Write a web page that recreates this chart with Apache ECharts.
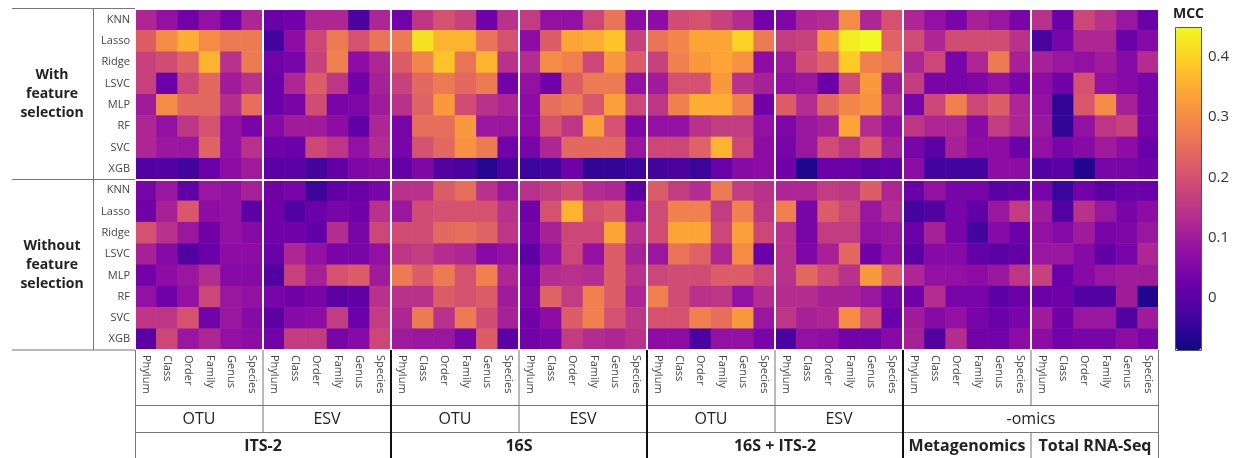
<!DOCTYPE html>
<html>
<head>
<meta charset="utf-8">
<script src="https://cdn.jsdelivr.net/npm/echarts@6/dist/echarts.min.js"></script>
<style>
html, body { margin: 0; padding: 0; background: #fff; }
#chart { width: 1241px; height: 458px; }
</style>
</head>
<body>
<div id="chart"></div>
<script>
var models = ['KNN', 'Lasso', 'Ridge', 'LSVC', 'MLP', 'RF', 'SVC', 'XGB'];
var ranks = ['Phylum', 'Class', 'Order', 'Family', 'Genus', 'Species'];
var subGroups = ['OTU', 'ESV', 'OTU', 'ESV', 'OTU', 'ESV'];
var markers = ['ITS-2', '16S', '16S + ITS-2'];
var omicsNames = ['Metagenomics', 'Total RNA-Seq'];
var selectionLabels = ['With\nfeature\nselection', 'Without\nfeature\nselection'];
var mccTicks = [0, 0.1, 0.2, 0.3, 0.4];
var mccMin = -0.087, mccMax = 0.448;

// rows = models, columns = OTU ranks then ESV ranks (or metagenomics then RNA-seq)
var its2With = [
    [0.12, 0.08, 0.03, 0.08, 0.03, 0.12, 0.02, 0.03, 0.12, 0.12, -0.02, 0.12],
    [0.22, 0.30, 0.35, 0.30, 0.27, 0.27, -0.03, 0.07, 0.18, 0.27, 0.20, 0.26],
    [0.17, 0.19, 0.23, 0.36, 0.14, 0.27, 0.03, 0.04, 0.17, 0.28, 0.07, 0.12],
    [0.17, 0.02, 0.18, 0.24, 0.10, 0.14, 0.02, 0.12, 0.22, 0.15, 0.03, 0.11],
    [0.10, 0.30, 0.24, 0.24, 0.13, 0.25, 0.02, 0.04, 0.19, 0.04, 0.05, 0.10],
    [0.12, 0.08, 0.15, 0.20, 0.08, 0.04, 0.06, 0.10, 0.10, 0.07, 0.01, 0.12],
    [0.12, 0.09, 0.09, 0.23, 0.08, 0.14, 0.03, 0.02, 0.18, 0.15, 0.08, 0.13],
    [-0.01, -0.01, -0.03, 0.02, 0.07, 0.10, 0.00, 0.00, -0.03, 0.01, 0.05, 0.06]
];
var s16With = [
    [0.03, 0.15, 0.20, 0.17, 0.03, 0.14, 0.16, 0.08, 0.08, 0.18, 0.26, 0.07],
    [0.27, 0.42, 0.36, 0.36, 0.26, 0.20, 0.07, 0.22, 0.34, 0.35, 0.38, 0.17],
    [0.22, 0.29, 0.38, 0.26, 0.36, 0.14, 0.13, 0.30, 0.28, 0.18, 0.32, 0.22],
    [0.17, 0.24, 0.27, 0.24, 0.27, 0.03, 0.08, 0.03, 0.22, 0.27, 0.27, 0.08],
    [0.14, 0.23, 0.32, 0.19, 0.14, 0.12, 0.07, 0.25, 0.27, 0.21, 0.33, 0.18],
    [0.04, 0.25, 0.25, 0.32, 0.09, 0.09, 0.07, 0.20, 0.15, 0.33, 0.20, 0.05],
    [0.04, 0.20, 0.24, 0.31, 0.27, 0.03, 0.04, 0.12, 0.24, 0.24, 0.24, 0.09],
    [0.01, 0.05, -0.01, -0.02, -0.06, -0.02, -0.04, -0.03, 0.03, -0.05, -0.05, -0.04]
];
var bothWith = [
    [0.07, 0.19, 0.20, 0.17, 0.13, 0.03, 0.05, 0.12, 0.13, 0.30, 0.12, 0.20],
    [0.26, 0.29, 0.34, 0.34, 0.40, 0.27, 0.16, 0.17, 0.32, 0.43, 0.45, 0.23],
    [0.17, 0.28, 0.32, 0.34, 0.31, 0.07, 0.10, 0.19, 0.23, 0.39, 0.28, 0.26],
    [0.10, 0.20, 0.20, 0.32, 0.14, 0.11, 0.08, 0.09, 0.02, 0.19, 0.32, 0.10],
    [0.15, 0.28, 0.35, 0.35, 0.28, 0.03, 0.22, 0.13, 0.24, 0.29, 0.31, 0.14],
    [0.08, 0.08, 0.14, 0.16, 0.16, 0.08, 0.05, 0.09, 0.11, 0.34, 0.13, 0.08],
    [0.18, 0.18, 0.23, 0.36, 0.18, 0.07, 0.04, 0.09, 0.19, 0.15, 0.22, 0.11],
    [-0.03, -0.02, -0.04, 0.02, 0.06, 0.07, 0.03, -0.07, 0.02, 0.02, 0.00, 0.01]
];
var omicsWith = [
    [0.12, 0.08, 0.04, 0.11, 0.09, 0.04, 0.14, 0.02, 0.18, 0.14, 0.09, 0.02],
    [0.19, 0.12, 0.19, 0.19, 0.19, 0.14, -0.02, 0.04, 0.12, 0.12, 0.02, 0.06],
    [0.12, 0.18, 0.04, 0.12, 0.27, 0.11, 0.11, 0.09, 0.08, 0.10, 0.06, 0.13],
    [0.16, 0.04, 0.04, 0.05, 0.08, 0.04, 0.07, 0.03, 0.20, 0.08, 0.06, 0.04],
    [0.04, 0.18, 0.28, 0.18, 0.22, 0.12, 0.08, -0.05, 0.21, 0.30, 0.11, 0.04],
    [0.15, 0.12, 0.12, 0.06, 0.16, 0.12, 0.09, -0.05, 0.08, 0.15, 0.17, 0.04],
    [0.04, 0.00, 0.11, 0.07, 0.07, 0.02, 0.08, 0.04, 0.06, 0.10, 0.07, 0.02],
    [0.07, -0.03, -0.03, -0.03, 0.07, 0.07, -0.01, 0.00, -0.07, 0.04, 0.04, 0.03]
];
var its2Without = [
    [0.04, 0.09, 0.01, 0.09, 0.08, 0.11, 0.03, 0.04, -0.04, 0.01, 0.02, 0.04],
    [0.03, 0.11, 0.21, 0.07, 0.08, 0.00, 0.03, -0.01, 0.02, 0.04, 0.03, 0.14],
    [0.20, 0.14, 0.09, 0.03, 0.08, 0.06, 0.03, 0.03, 0.01, 0.13, 0.04, 0.18],
    [0.11, 0.06, -0.01, 0.02, 0.07, 0.07, 0.02, 0.12, 0.08, 0.04, 0.04, 0.08],
    [0.03, 0.07, 0.09, 0.13, 0.06, 0.06, -0.01, 0.17, 0.11, 0.20, 0.22, 0.10],
    [0.08, 0.03, 0.08, 0.18, 0.09, 0.08, 0.04, 0.03, 0.04, 0.00, 0.01, 0.14],
    [0.15, 0.15, 0.20, 0.03, 0.09, 0.06, 0.00, 0.06, 0.07, 0.16, 0.02, 0.16],
    [0.00, 0.18, 0.09, 0.12, 0.08, 0.07, 0.03, 0.16, 0.16, 0.04, 0.06, 0.18]
];
var s16Without = [
    [0.14, 0.14, 0.22, 0.25, 0.14, 0.09, 0.14, 0.16, 0.19, 0.13, 0.12, 0.00],
    [0.09, 0.19, 0.20, 0.20, 0.20, 0.14, 0.03, 0.20, 0.36, 0.20, 0.22, 0.08],
    [0.19, 0.19, 0.24, 0.25, 0.23, 0.15, 0.04, 0.11, 0.18, 0.18, 0.34, 0.14],
    [0.15, 0.16, 0.13, 0.12, 0.06, 0.08, 0.00, 0.08, 0.18, 0.08, 0.22, 0.11],
    [0.27, 0.22, 0.27, 0.20, 0.28, 0.12, 0.04, 0.13, 0.14, 0.13, 0.22, 0.14],
    [0.14, 0.14, 0.22, 0.20, 0.22, 0.10, 0.05, 0.23, 0.16, 0.28, 0.22, 0.12],
    [0.12, 0.27, 0.14, 0.27, 0.19, 0.11, 0.03, 0.07, 0.22, 0.28, 0.20, 0.15],
    [0.10, 0.09, 0.09, 0.04, 0.22, 0.00, 0.03, 0.04, 0.16, 0.13, 0.12, 0.14]
];
var bothWithout = [
    [0.22, 0.16, 0.13, 0.27, 0.16, 0.14, 0.12, 0.12, 0.16, 0.15, 0.22, 0.12],
    [0.19, 0.28, 0.28, 0.16, 0.28, 0.15, 0.28, 0.04, 0.22, 0.18, 0.09, 0.13],
    [0.19, 0.34, 0.34, 0.18, 0.33, 0.18, 0.14, 0.04, 0.16, 0.16, 0.08, 0.09],
    [0.09, 0.26, 0.23, 0.12, 0.30, 0.02, 0.14, 0.05, 0.11, 0.24, 0.03, 0.08],
    [0.18, 0.19, 0.19, 0.22, 0.22, 0.18, 0.14, 0.24, 0.19, 0.14, 0.32, 0.22],
    [0.28, 0.19, 0.14, 0.15, 0.08, 0.13, 0.13, 0.13, 0.11, 0.11, 0.09, 0.04],
    [0.20, 0.20, 0.28, 0.25, 0.32, 0.09, 0.15, 0.11, 0.12, 0.30, 0.19, 0.02],
    [0.07, 0.07, -0.02, 0.08, 0.08, 0.04, -0.02, 0.08, 0.07, 0.03, 0.03, 0.06]
];
var omicsWithout = [
    [0.02, 0.08, 0.04, 0.04, 0.00, 0.01, 0.04, -0.04, 0.03, 0.00, 0.02, 0.02],
    [-0.03, -0.01, 0.04, 0.01, 0.09, 0.16, 0.10, -0.01, 0.14, 0.09, 0.04, 0.07],
    [0.02, 0.11, 0.04, -0.03, 0.06, 0.02, 0.08, 0.06, 0.10, 0.04, 0.05, 0.09],
    [0.00, 0.06, 0.06, 0.01, 0.00, 0.01, 0.09, 0.09, 0.06, 0.01, 0.04, 0.12],
    [0.12, 0.08, 0.08, 0.07, 0.09, 0.15, 0.17, 0.02, 0.06, 0.09, 0.10, 0.10],
    [0.03, 0.13, 0.04, 0.04, 0.00, 0.02, 0.02, 0.03, -0.01, -0.01, 0.10, -0.07],
    [0.10, 0.06, 0.08, 0.04, 0.02, 0.04, 0.10, 0.03, 0.09, 0.09, -0.01, 0.10],
    [0.11, -0.01, 0.13, 0.03, 0.03, 0.07, 0.07, 0.03, 0.04, 0.04, 0.07, 0.04]
];

var plasma = ['#0d0887', '#41049d', '#6a00a8', '#8f0da4', '#b12a90', '#cc4778',
              '#e16462', '#f2844b', '#fca636', '#fcce25', '#f0f921'];

// layout
var gLeft = 135, gTop = 9, gWidth = 1024, gHeight = 341;
var nCols = 48, nRows = 16;
var colW = gWidth / nCols;
var gBottom = gTop + gHeight, gRight = gLeft + gWidth;
var cbLeft = 1176, cbTop = 28, cbWidth = 25, cbHeight = 322;

var xCats = [];
for (var i = 0; i < 8; i++) xCats = xCats.concat(ranks);
var yCats = models.concat(models);

var data = [];
function addBlocks(blocks, rowOffset) {
    blocks.forEach(function(block, b) {
        block.forEach(function(row, r) {
            row.forEach(function(v, c) {
                data.push([b * 12 + c, rowOffset + r, v]);
            });
        });
    });
}
addBlocks([its2With, s16With, bothWith, omicsWith], 0);
addBlocks([its2Without, s16Without, bothWithout, omicsWithout], 8);

function colX(i) { return gLeft + i * colW; }

var graphics = [];
function line(x1, y1, x2, y2, w, color) {
    graphics.push({
        type: 'line', z: 20, silent: true,
        shape: { x1: x1, y1: y1, x2: x2, y2: y2 },
        style: { stroke: color, lineWidth: w }
    });
}
function label(text, x, y, size, weight) {
    graphics.push({
        type: 'text', z: 20, silent: true, x: x, y: y,
        style: {
            text: text, fill: '#222', fontFamily: 'Open Sans', fontSize: size,
            fontWeight: weight, align: 'center', verticalAlign: 'middle', lineHeight: 19
        }
    });
}

var thin = '#777', thick = '#111';
var row1 = 405, row2 = 432, row3 = 458;

// left table
line(12, gTop - 0.5, gLeft, gTop - 0.5, 1, thin);
line(12, gTop + gHeight / 2, gLeft, gTop + gHeight / 2, 1, thin);
line(12, gBottom, gLeft, gBottom, 1, thin);
line(93.5, gTop - 0.5, 93.5, gBottom, 1, thin);
selectionLabels.forEach(function(t, k) {
    label(t, 52, gTop + gHeight / 4 + k * gHeight / 2, 14, 'bold');
});

// bottom table
line(gLeft + 0.5, gBottom, gLeft + 0.5, row3, 1, thin);
line(gRight - 0.5, gBottom, gRight - 0.5, row3, 1, thin);
line(gLeft, row1 + 0.5, gRight, row1 + 0.5, 1, thin);
line(gLeft, row2 + 0.5, gRight, row2 + 0.5, 1, thin);
[6, 18, 30].forEach(function(c) {
    line(colX(c), gBottom, colX(c), row2, 1, thin);
});
line(colX(42), gBottom, colX(42), row1, 1, thin);
line(colX(42), row2, colX(42), row3, 1, thin);
[12, 24, 36].forEach(function(c) {
    line(colX(c), gBottom, colX(c), row3, 2, thick);
});
subGroups.forEach(function(t, k) {
    label(t, colX(k * 6 + 3), (row1 + row2) / 2 + 1, 16, 'normal');
});
label('-omics', colX(42), (row1 + row2) / 2 + 1, 16, 'normal');
markers.forEach(function(t, k) {
    label(t, colX(k * 12 + 6), (row2 + row3) / 2 + 1, 16, 'bold');
});
omicsNames.forEach(function(t, k) {
    label(t, colX(36 + k * 6 + 3), (row2 + row3) / 2 + 1, 16, 'bold');
});

// colour bar frame and title
graphics.push({
    type: 'rect', z: 20, silent: true,
    shape: { x: cbLeft - 0.5, y: cbTop - 0.5, width: cbWidth + 1, height: cbHeight + 1 },
    style: { fill: null, stroke: '#555', lineWidth: 1 }
});
label('MCC', cbLeft + cbWidth / 2, 14, 14, 'bold');

var chart = echarts.init(document.getElementById('chart'));

var option = {
    animation: false,
    grid: [
        { left: gLeft, top: gTop, width: gWidth, height: gHeight },
        { left: cbLeft, top: cbTop, width: cbWidth, height: cbHeight }
    ],
    xAxis: [
        {
            type: 'category', gridIndex: 0, data: xCats,
            axisLine: { show: false }, axisTick: { show: false },
            axisLabel: {
                interval: 0, rotate: -90, margin: 5, fontSize: 11,
                color: '#444', fontFamily: 'Open Sans'
            },
            splitLine: { show: false }
        },
        {
            type: 'value', gridIndex: 0, min: 0, max: nCols, interval: 6, z: 10,
            axisLine: { show: false }, axisTick: { show: false }, axisLabel: { show: false },
            splitLine: { show: true, lineStyle: { color: '#fff', width: 2 } }
        },
        {
            type: 'value', gridIndex: 1, min: 0, max: 1, show: false
        }
    ],
    yAxis: [
        {
            type: 'category', gridIndex: 0, data: yCats, inverse: true,
            axisLine: { show: false }, axisTick: { show: false },
            axisLabel: { margin: 5, fontSize: 11, color: '#444', fontFamily: 'Open Sans' },
            splitLine: { show: false }
        },
        {
            type: 'value', gridIndex: 0, min: 0, max: nRows, interval: 8, z: 10,
            axisLine: { show: false }, axisTick: { show: false }, axisLabel: { show: false },
            splitLine: { show: true, lineStyle: { color: '#fff', width: 2 } }
        },
        {
            type: 'value', gridIndex: 1, min: mccMin, max: mccMax, position: 'right',
            axisLine: { show: false }, axisTick: { show: false },
            splitLine: { show: false },
            axisLabel: {
                customValues: mccTicks, margin: 7, fontSize: 15, color: '#333',
                fontFamily: 'Open Sans',
                formatter: function(v) { return Math.abs(v) < 1e-9 ? '0' : v.toFixed(1); }
            }
        }
    ],
    visualMap: {
        type: 'continuous', seriesIndex: 0, min: mccMin, max: mccMax,
        calculable: false, hoverLink: false, text: null, padding: 0,
        left: cbLeft, top: cbTop, itemWidth: cbWidth, itemHeight: cbHeight,
        inRange: { color: plasma }
    },
    series: [{
        type: 'heatmap', xAxisIndex: 0, yAxisIndex: 0, data: data,
        emphasis: { disabled: true }, progressive: 0
    }],
    graphic: graphics
};

chart.setOption(option);
</script>
</body>
</html>
